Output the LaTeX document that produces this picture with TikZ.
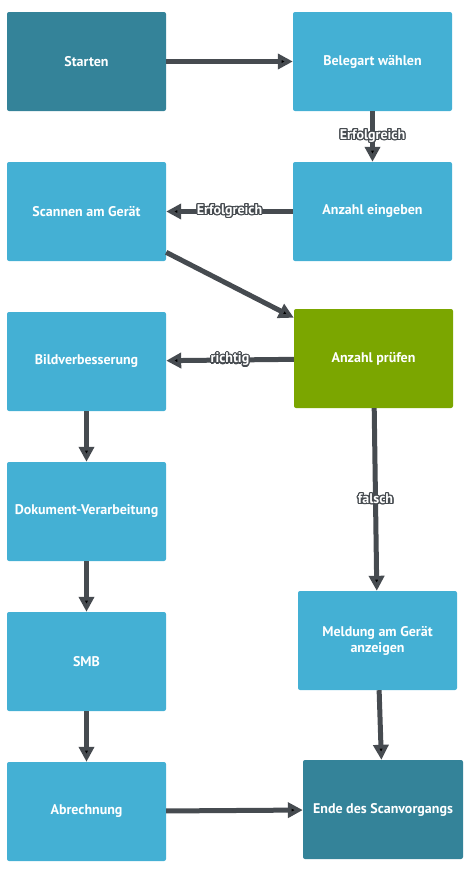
\documentclass[tikz,border=0pt]{standalone}
\usepackage{fontspec}
\setmainfont{PT Sans}
\usepackage[copies]{contour}
\usetikzlibrary{arrows.meta}
\definecolor{boxblue}{HTML}{44B0D4}
\definecolor{boxteal}{HTML}{348399}
\definecolor{boxgreen}{HTML}{7BA600}
\definecolor{linegray}{HTML}{464B50}
\contourlength{1.2pt}
% white letters with a dark rim
\newcommand{\lbl}[1]{\contour{linegray}{\textcolor{white}{#1}}}

\begin{document}
\begin{tikzpicture}[x=1pt,y=-1pt,
  font=\bfseries\fontsize{14}{16}\selectfont,
  box/.style={fill=boxblue,text=white,rounded corners=2pt,minimum width=159pt,
    minimum height=99pt,inner sep=0pt,align=center},
  flow/.style={draw=linegray,line width=5pt,-{Triangle[length=15pt,width=15pt]}},
  lab/.style={midway,inner sep=0pt,font=\bfseries\fontsize{14}{16}\selectfont}]

\useasboundingbox (0,0) rectangle (473,870);

\node[box,fill=boxteal] (start) at (86.5,61.5) {Starten};
\node[box] (beleg) at (372.5,61.5) {Belegart wählen};
\node[box] (scan) at (86.5,211.5) {Scannen am Gerät};
\node[box] (eingabe) at (372.5,211.5) {Anzahl eingeben};
\node[box,fill=boxgreen] (pruef) at (373.5,358.5) {Anzahl prüfen};
\node[box] (bild) at (86.5,361.5) {Bildverbesserung};
\node[box] (dok) at (86.5,511.5) {Dokument-Verarbeitung};
\node[box] (smb) at (86.5,661.5) {SMB};
\node[box] (abr) at (86.5,811.5) {Abrechnung};
\node[box] (meld) at (377.5,640.5) {Meldung am Gerät\\anzeigen};
\node[box,fill=boxteal,minimum width=160pt] (ende) at (383,809.5) {Ende des Scanvorgangs};

\path[flow] (start) edge (beleg)
  (beleg) edge node[lab] {\lbl{Erfolgreich}} (eingabe)
  (eingabe) edge node[lab] {\lbl{Erfolgreich}} (scan)
  (scan) edge (pruef)
  (pruef) edge node[lab] {\lbl{richtig}} (bild)
  (pruef) edge node[lab] {\lbl{falsch}} (meld)
  (bild) edge (dok) (dok) edge (smb) (smb) edge (abr)
  (meld) edge (ende) (abr) edge (ende);

\end{tikzpicture}
\end{document}
